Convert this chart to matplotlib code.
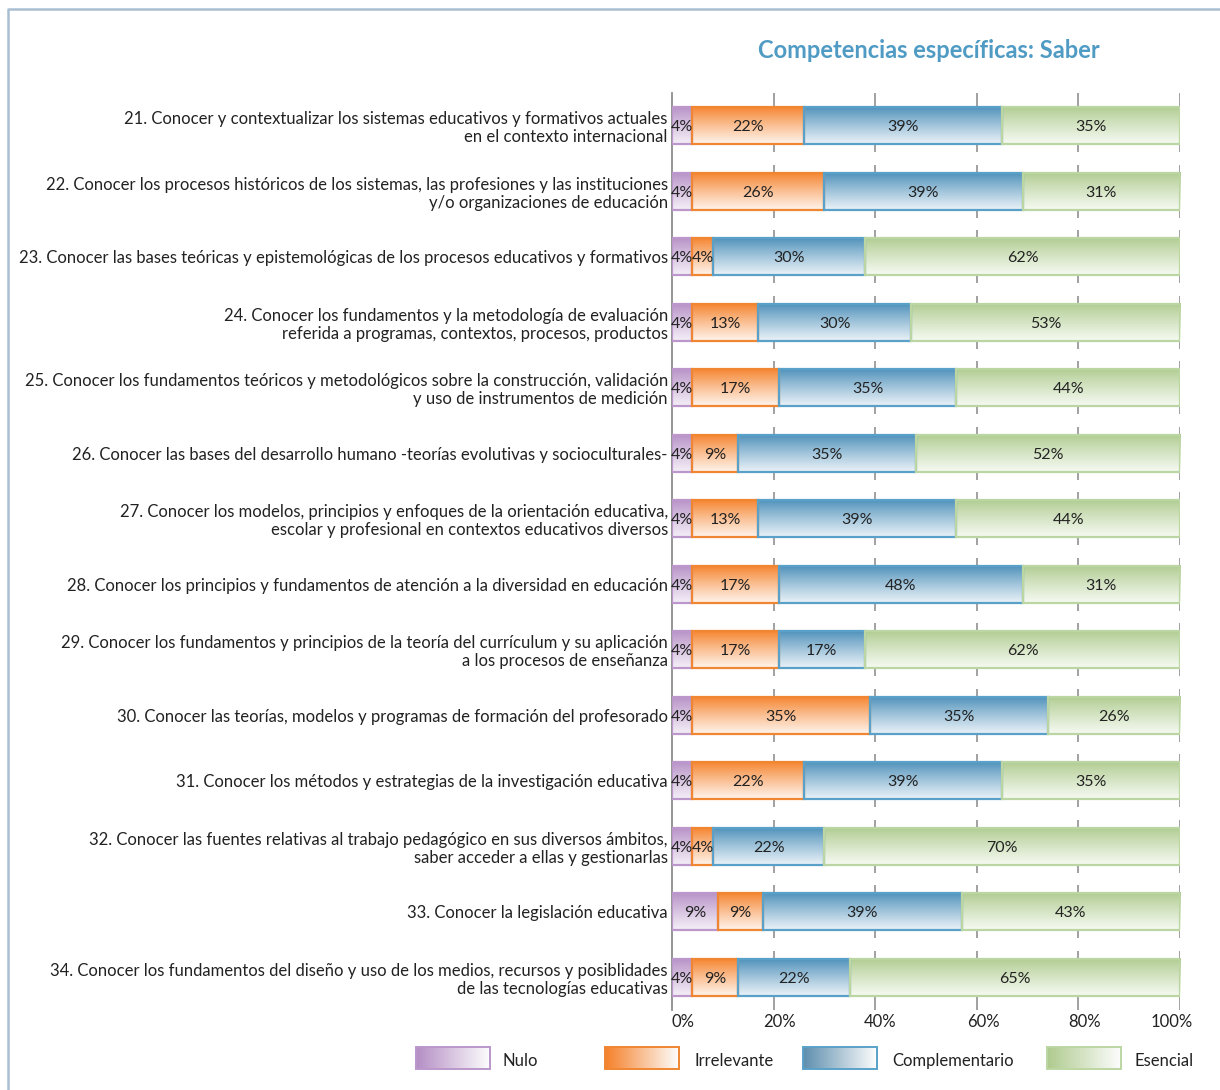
import numpy as np
import matplotlib
matplotlib.use("Agg")
import matplotlib.pyplot as plt
from matplotlib.patches import Rectangle
from matplotlib.transforms import ScaledTranslation
from matplotlib.colors import to_rgb

plt.rcParams['font.family'] = ['Lato', 'DejaVu Sans']

categories = [
    "21. Conocer y contextualizar los sistemas educativos y formativos actuales\nen el contexto internacional",
    "22. Conocer los procesos históricos de los sistemas, las profesiones y las instituciones\ny/o organizaciones de educación",
    "23. Conocer las bases teóricas y epistemológicas de los procesos educativos y formativos",
    "24. Conocer los fundamentos y la metodología de evaluación\nreferida a programas, contextos, procesos, productos",
    "25. Conocer los fundamentos teóricos y metodológicos sobre la construcción, validación\ny uso de instrumentos de medición",
    "26. Conocer las bases del desarrollo humano -teorías evolutivas y socioculturales-",
    "27. Conocer los modelos, principios y enfoques de la orientación educativa,\nescolar y profesional en contextos educativos diversos",
    "28. Conocer los principios y fundamentos de atención a la diversidad en educación",
    "29. Conocer los fundamentos y principios de la teoría del currículum y su aplicación\na los procesos de enseñanza",
    "30. Conocer las teorías, modelos y programas de formación del profesorado",
    "31. Conocer los métodos y estrategias de la investigación educativa",
    "32. Conocer las fuentes relativas al trabajo pedagógico en sus diversos ámbitos,\nsaber acceder a ellas y gestionarlas",
    "33. Conocer la legislación educativa",
    "34. Conocer los fundamentos del diseño y uso de los medios, recursos y posiblidades\nde las tecnologías educativas",
]
series_names = ["Nulo", "Irrelevante", "Complementario", "Esencial"]
nulo = [4, 4, 4, 4, 4, 4, 4, 4, 4, 4, 4, 4, 9, 4]
irrelevante = [22, 26, 4, 13, 17, 9, 13, 17, 17, 35, 22, 4, 9, 9]
complementario = [39, 39, 30, 30, 35, 35, 39, 48, 17, 35, 39, 22, 39, 22]
esencial = [35, 31, 62, 53, 44, 52, 44, 31, 62, 26, 35, 70, 43, 65]
xticks = [0, 20, 40, 60, 80, 100]
xtick_labels = ["0%", "20%", "40%", "60%", "80%", "100%"]
title = "Competencias específicas: Saber"

# style
top_cols = ["#b68fc6", "#f5812a", "#4b8fb9", "#afcb8f"]
bot_cols = ["#f4eff7", "#fff4ec", "#eaf2f8", "#f6faf2"]
edge_cols = ["#bb97cb", "#f08632", "#5aa1c9", "#bcd6a3"]
leg_left = ["#b58fc5", "#f5812a", "#5e8fae", "#afcb8f"]
text_col = "#222222"

W, H = 1220, 1090
fig = plt.figure(figsize=(W / 100, H / 100), dpi=100)

# decoration layer (pixel coordinates)
deco = fig.add_axes([0, 0, 1, 1], zorder=-1)
deco.set_xlim(0, W)
deco.set_ylim(H, 0)
deco.axis('off')
deco.plot([8, 8, W], [H, 9, 9], color="#a9bfd1", lw=1.8, solid_capstyle='butt')
deco.text(1100, 50, title, ha='right', va='center', fontsize=17, fontweight='bold',
          color="#4f9bc4")

# main axes
ax_left, ax_right, ax_top, ax_bot = 672, 1180, 93, 1010
ax = fig.add_axes([ax_left / W, 1 - ax_bot / H, (ax_right - ax_left) / W, (ax_bot - ax_top) / H])
n = len(categories)
ax.set_xlim(0, 100)
ax.set_ylim(n - 0.5, -0.5)
for s in ['top', 'right', 'bottom']:
    ax.spines[s].set_visible(False)
ax.spines['left'].set_color("#8c8c8c")
ax.spines['left'].set_linewidth(1.3)
ax.set_facecolor('none')

bar_h = 0.565

# gapped gridlines (only in the space between bars)
gap = 0.095
for x in xticks[1:]:
    for i in range(n):
        y0 = i - 0.5 + (gap if i > 0 else 0)
        y1 = i + 0.5 - (gap if i < n - 1 else 0)
        ax.vlines(x, y0, i - bar_h / 2, color="#9a9a9a", lw=1.3, zorder=0)
        ax.vlines(x, i + bar_h / 2, y1, color="#9a9a9a", lw=1.3, zorder=0)

data = [nulo, irrelevante, complementario, esencial]
ramp = np.linspace(0, 1, 64) ** 0.9
for k in range(4):
    c0, c1 = np.array(to_rgb(top_cols[k])), np.array(to_rgb(bot_cols[k]))
    grad = (c0[None, :] * (1 - ramp[:, None]) + c1[None, :] * ramp[:, None])[:, None, :]
    lefts = [sum(d[i] for d in data[:k]) for i in range(n)]
    bars = ax.barh(range(n), data[k], left=lefts, height=bar_h, color='none',
                   edgecolor=edge_cols[k], lw=1.6, zorder=3)
    for i, b in enumerate(bars):
        l, w = b.get_x(), b.get_width()
        yc = i
        ax.imshow(grad, extent=(l, l + w, yc + bar_h / 2, yc - bar_h / 2), origin='upper',
                  aspect='auto', zorder=2, interpolation='bilinear')
        ax.text(l + w / 2, yc + 0.02, f"{data[k][i]}%", ha='center', va='center',
                fontsize=11.5, color=text_col, zorder=4)

ax.set_xlim(0, 100)
ax.set_ylim(n - 0.5, -0.5)
ax.set_yticks(range(n))
ax.set_yticklabels(categories, fontsize=12, color=text_col, linespacing=1.15,
                   multialignment='right')
ax.set_xticks(xticks)
ax.set_xticklabels(xtick_labels, fontsize=12, color=text_col)
ax.tick_params(axis='both', length=0)
ax.tick_params(axis='y', pad=3)
ax.tick_params(axis='x', pad=3)
offsets_px = [11, 6, 5, 7, 6, -8]
for lab, dx in zip(ax.get_xticklabels(), offsets_px):
    lab.set_transform(lab.get_transform() + ScaledTranslation(dx / 100, 0, fig.dpi_scale_trans))

# legend (pixel coordinates)
leg_box_x = [416, 605, 803, 1047]
leg_txt_x = [503, 695, 892, 1135]
ly0, ly1 = 1047, 1069
for k in range(4):
    c0 = np.array(to_rgb(leg_left[k]))
    c1 = np.array([0.99, 0.99, 0.99])
    r = np.linspace(0, 1, 64)
    g = (c0[None, :] * (1 - r[:, None]) + c1[None, :] * r[:, None])[None, :, :]
    x0 = leg_box_x[k]
    deco.imshow(g, extent=(x0, x0 + 74, ly1, ly0), origin='upper', aspect='auto',
                interpolation='bilinear')
    deco.add_patch(Rectangle((x0, ly0), 74, ly1 - ly0, fill=False, edgecolor=edge_cols[k], lw=1.4))
    deco.text(leg_txt_x[k], 1061, series_names[k], ha='left', va='center', fontsize=12,
              color=text_col)
deco.set_xlim(0, W)
deco.set_ylim(H, 0)

fig.savefig("out.png", dpi=100)
